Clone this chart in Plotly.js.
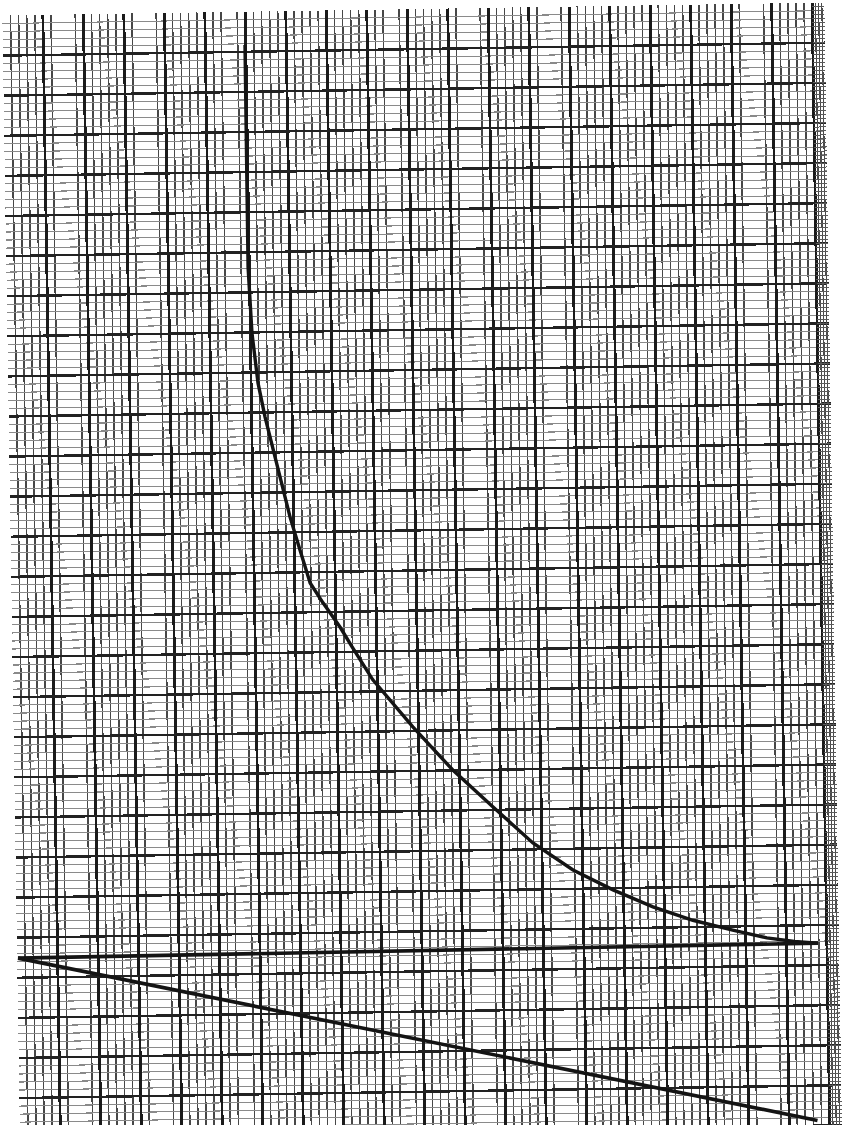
<!DOCTYPE html>
<html>
<head>
<meta charset="utf-8">
<script src="https://cdn.plot.ly/plotly-3.0.1.min.js"></script>
<style>
  html, body { margin: 0; padding: 0; background: #ffffff; overflow: hidden; width: 843px; height: 1125px; }
  #plot { position: absolute; left: 0; top: 0; width: 843px; height: 1145px;
          transform: rotate(-0.9deg); transform-origin: 421.5px 562.5px; }
</style>
</head>
<body>
<div id="plot"></div>
<script>
// ---- data (graph-paper cell units, y counted downward from the top edge) ----
const curveX = [5.98, 5.97, 5.97, 6.04, 6.17, 6.33, 6.61, 6.91, 7.14, 7.38, 7.69, 8.10, 8.41, 8.89, 9.86, 10.83, 11.81, 12.78, 13.76, 14.74, 15.72, 16.70, 17.68, 18.52, 19.20, 19.78];
const curveY = [0.83, 4.70, 6.37, 8.01, 9.26, 10.11, 11.36, 12.62, 13.44, 14.27, 14.77, 15.38, 15.91, 16.71, 17.90, 18.99, 19.93, 20.84, 21.53, 22.04, 22.48, 22.83, 23.09, 23.30, 23.40, 23.45];
const flatX = [0.02, 19.78];
const flatY = [23.51, 23.45];
const slopeX = [0.02, 19.70];
const slopeY = [23.51, 27.87];

// ---- graph-paper ruling ----
const xMajors = [];
for (let k = 1; k <= 20; k++) xMajors.push(k);
const yMajors = [];
for (let k = 1; k <= 28; k++) yMajors.push(k);

const sparseCells = [1, 3, 11, 13, 18];
const partialCells = [5, 9];
const xMinors = [];
for (let k = 0; k < 20; k++) {
  let fr = [0.2, 0.4, 0.6, 0.8];
  if (sparseCells.includes(k)) fr = [0.2, 0.8];
  else if (partialCells.includes(k)) fr = [0.2, 0.4, 0.8];
  fr.forEach(f => xMinors.push(+(k + f).toFixed(2)));
}
const yMinors = [];
for (let k = 0; k < 28; k++) {
  [0.2, 0.4, 0.6, 0.8].forEach(f => yMinors.push(+(k + f).toFixed(2)));
}
const stripX = [20.08, 20.16, 20.24];

const traces = [
  { x: curveX, y: curveY, type: 'scatter', mode: 'lines',
    line: { color: '#141414', width: 3.4 }, hoverinfo: 'skip', showlegend: false },
  { x: flatX, y: flatY, type: 'scatter', mode: 'lines',
    line: { color: '#141414', width: 3.6 }, hoverinfo: 'skip', showlegend: false },
  { x: slopeX, y: slopeY, type: 'scatter', mode: 'lines',
    line: { color: '#141414', width: 3.6 }, hoverinfo: 'skip', showlegend: false },
  { x: [], y: [], xaxis: 'x2', yaxis: 'y2', type: 'scatter', mode: 'lines',
    hoverinfo: 'skip', showlegend: false }
];

const common = { showticklabels: false, ticks: '', zeroline: false, showline: false, fixedrange: true };

const layout = {
  width: 843, height: 1145,
  margin: { l: 11, r: 10, t: 9, b: 10, pad: 0 },
  paper_bgcolor: '#ffffff',
  plot_bgcolor: 'rgba(0,0,0,0)',
  showlegend: false,
  xaxis: Object.assign({}, common, {
    range: [0, 20.3], domain: [0, 1],
    tickmode: 'array', tickvals: xMajors,
    showgrid: true, gridcolor: '#1a1a1a', gridwidth: 2.8,
    minor: { tickmode: 'array', tickvals: xMinors, showgrid: true, gridcolor: '#474747', gridwidth: 1.6, ticks: '' }
  }),
  yaxis: Object.assign({}, common, {
    range: [28.08, 0],
    tickmode: 'array', tickvals: yMajors,
    showgrid: true, gridcolor: '#222222', gridwidth: 2.4,
    minor: { tickmode: 'array', tickvals: yMinors, showgrid: true, gridcolor: '#8a8a8a', gridwidth: 1.1, ticks: '' }
  }),
  xaxis2: Object.assign({}, common, {
    range: [20, 20.3], domain: [20 / 20.3, 1], anchor: 'y2',
    tickmode: 'array', tickvals: stripX,
    showgrid: true, gridcolor: '#4a4a4a', gridwidth: 1.2
  }),
  yaxis2: Object.assign({}, common, {
    range: [28.08, 0], domain: [0, 1], anchor: 'x2',
    tickmode: 'linear', tick0: 0, dtick: 0.1,
    showgrid: true, gridcolor: '#5a5a5a', gridwidth: 1
  })
};

Plotly.newPlot('plot', traces, layout, { staticPlot: true, displayModeBar: false });
</script>
</body>
</html>
